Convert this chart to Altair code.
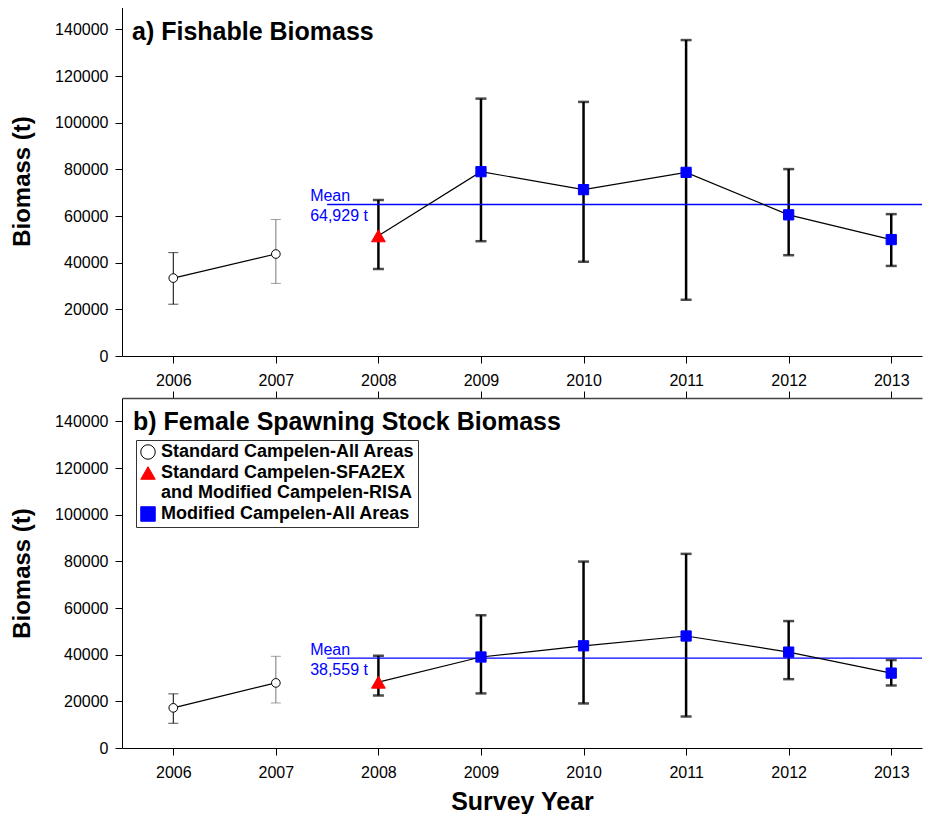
import altair as alt
import pandas as pd

years = [2006, 2007, 2008, 2009, 2010, 2011, 2012, 2013]
fish_est = [33400, 43700, 51500, 79000, 71300, 78700, 60500, 49900]
fish_lo = [22200, 31100, 37300, 49200, 40400, 24100, 43200, 38600]
fish_hi = [44300, 58500, 66900, 110300, 108900, 135400, 80100, 60800]
ssb_est = [17200, 27900, 28200, 39000, 43800, 48000, 41100, 32100]
ssb_lo = [10600, 19300, 22500, 23400, 19100, 13500, 29500, 26800]
ssb_hi = [23200, 39300, 39500, 56900, 79900, 83200, 54400, 37700]
series_names = [
    "Standard Campelen-All Areas",
    "Standard Campelen-SFA2EX|and Modified Campelen-RISA",
    "Modified Campelen-All Areas",
]
year_series = [0, 0, 1, 2, 2, 2, 2, 2]
fish_mean = 64929
ssb_mean = 38559
mean_start = 2007.5
x_domain = [2005.5, 2013.3]
y_domain = [0, 150000]
y_ticks = [0, 20000, 40000, 60000, 80000, 100000, 120000, 140000]

FONT = "Liberation Sans"
BLUE = "#0000ff"

x_scale = alt.Scale(domain=x_domain, nice=False, zero=False)
y_scale = alt.Scale(domain=y_domain, nice=False)


def panel(est, lo, hi, mean, title, title_dx, title_y, bottom):
    df = pd.DataFrame({
        "year": years, "est": est, "lo": lo, "hi": hi,
        "series": [series_names[i] for i in year_series],
        "segment": ["a" if i == 0 else "b" for i in year_series],
    })
    mdf = pd.DataFrame({"x": [mean_start], "x2": [x_domain[1]], "y": [mean],
                        "label": [f"Mean\n{mean:,} t"]})
    tdf = pd.DataFrame({"title": [title]})

    xaxis = alt.Axis(values=years, format="d", orient="bottom", grid=False,
                     labelFontSize=16, labelFontWeight="normal", labelPadding=9,
                     tickSize=7, tickColor="black", domainColor="black",
                     labelColor="black",
                     title="Survey Year" if bottom else None,
                     titleFontSize=25, titleFontWeight="bold", titlePadding=9,
                     titleColor="black")
    yaxis = alt.Axis(values=y_ticks, format="d", grid=False, labelFontSize=16,
                     labelFontWeight="normal",
                     labelPadding=7, tickSize=7, tickColor="black",
                     domainColor="black", labelColor="black",
                     title="Biomass (t)", titleFontSize=24, titleFontWeight="bold",
                     titlePadding=20, titleColor="black")

    def X(f):
        return alt.X(f + ":Q", scale=x_scale, axis=xaxis)

    def Y(f):
        return alt.Y(f + ":Q", scale=y_scale, axis=yaxis)

    base = alt.Chart(df)
    thin = base.transform_filter(alt.datum.segment == "a")
    thick = base.transform_filter(alt.datum.segment == "b")
    gray_cond = alt.condition("datum.year == 2007", alt.value("#777777"), alt.value("black"))

    thin_rule = thin.mark_rule(strokeWidth=1).encode(
        x=X("year"), y=Y("lo"), y2="hi:Q", color=gray_cond)
    thin_cap = thin.transform_fold(["lo", "hi"]).mark_tick(
        orient="horizontal", size=10, thickness=1).encode(
        x=X("year"), y=Y("value"), color=gray_cond)
    thick_rule = thick.mark_rule(strokeWidth=2.5, color="black").encode(
        x=X("year"), y=Y("lo"), y2="hi:Q")
    thick_cap = thick.transform_fold(["lo", "hi"]).mark_tick(
        orient="horizontal", size=11, thickness=2.5, color="black").encode(
        x=X("year"), y=Y("value"))

    mean_rule = alt.Chart(mdf).mark_rule(color=BLUE, strokeWidth=1.3).encode(
        x=X("x"), x2="x2:Q", y=Y("y"))
    mean_text = alt.Chart(mdf).mark_text(
        align="left", baseline="bottom", color=BLUE, fontSize=16, font=FONT,
        lineBreak="\n", lineHeight=20, dx=-17).encode(
        x=X("x"), y=Y("y"), text="label:N")

    line = base.mark_line(color="black", strokeWidth=1.2).encode(
        x=X("year"), y=Y("est"), detail="segment:N")

    if bottom:
        leg = alt.Legend(orient="none", legendX=14, legendY=42, title=None,
                         labelFontSize=18, labelFontWeight="bold", labelFont=FONT,
                         labelColor="black", symbolSize=210, symbolStrokeWidth=1,
                         strokeColor="#333333", fillColor="white", padding=3,
                         rowPadding=2, labelOffset=4, labelLimit=400,
                         labelExpr="split(datum.label, '|')")
    else:
        leg = None

    points = base.transform_calculate(
        sz="datum.series == '%s' ? 190 : (datum.series == '%s' ? 105 : 75)"
        % (series_names[1], series_names[2])
    ).mark_point(filled=True, opacity=1, strokeWidth=1).encode(
        x=X("year"), y=Y("est"),
        shape=alt.Shape("series:N", scale=alt.Scale(
            domain=series_names, range=["circle", "triangle-up", "square"]), legend=leg),
        fill=alt.Fill("series:N", scale=alt.Scale(
            domain=series_names, range=["white", "red", "blue"]), legend=leg),
        stroke=alt.Stroke("series:N", scale=alt.Scale(
            domain=series_names, range=["black", "red", "blue"]), legend=leg),
        size=alt.Size("sz:Q", scale=None, legend=None),
    )

    title_text = alt.Chart(tdf).mark_text(
        align="left", baseline="alphabetic", fontSize=25, fontWeight="bold",
        font=FONT, color="black").encode(
        x=alt.value(title_dx), y=alt.value(title_y), text="title:N")

    main = alt.layer(thin_rule, thin_cap, thick_rule, thick_cap, mean_rule,
                     mean_text, line, points, title_text)
    top_axis = base.mark_point(opacity=0).encode(
        x=alt.X("year:Q", scale=x_scale, axis=alt.Axis(
            orient="top", values=years, labels=False, domain=True,
            domainColor="#444444", domainWidth=1.5, grid=False,
            ticks=bottom, tickSize=7, tickColor="black", title=None)),
        y=Y("est"))
    ch = alt.layer(main, top_axis).resolve_axis(x="independent")
    return ch.properties(width=800, height=350)


top = panel(fish_est, fish_lo, fish_hi, fish_mean, "a) Fishable Biomass", 10, 34, False)
bot = panel(ssb_est, ssb_lo, ssb_hi, ssb_mean, "b) Female Spawning Stock Biomass", 11, 32, True)

chart = alt.vconcat(top, bot, spacing=2).resolve_legend(
    fill="independent", shape="independent", stroke="independent"
).properties(
    padding={"left": 2, "right": 0, "top": -2, "bottom": 0}
).configure_view(
    strokeWidth=0
).configure_axis(
    labelFont=FONT, titleFont=FONT
).configure_text(font=FONT)

chart.save("out.html", embed_options={"renderer": "svg", "actions": False})
